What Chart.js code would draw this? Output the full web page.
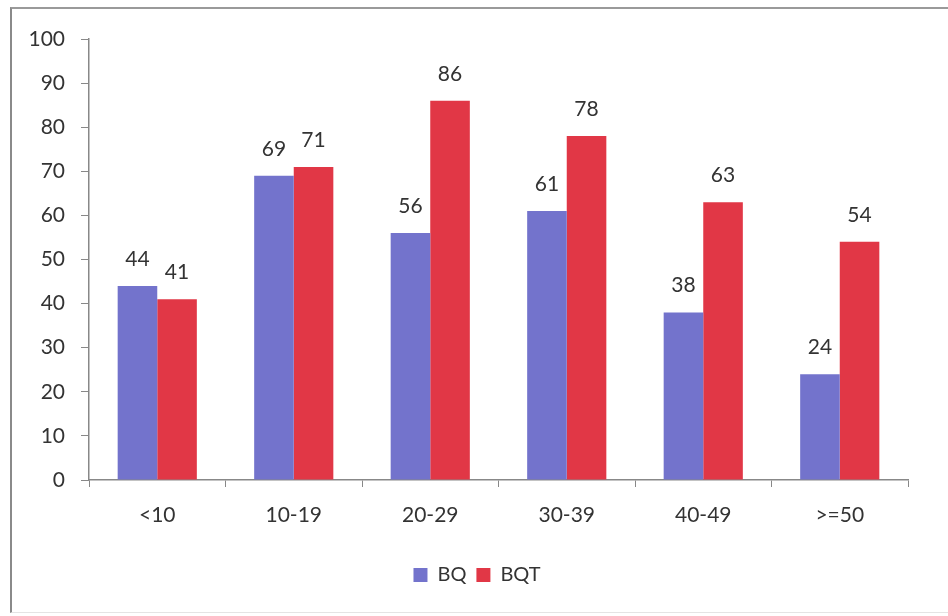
<!DOCTYPE html>
<html><head><meta charset="utf-8">
<script src="https://cdn.jsdelivr.net/npm/chart.js@4/dist/chart.umd.min.js"></script>
<style>
html,body{margin:0;padding:0;background:#fff;}
#wrap{position:relative;width:948px;height:616px;}
#frame{position:absolute;left:10px;top:7px;right:-2px;bottom:3px;border-left:2px solid #8a8a8a;border-top:2px solid #9a9a9a;border-bottom:1px solid #e4e4e4;}
canvas{position:absolute;left:0;top:0;}
</style></head>
<body><div id="wrap"><div id="frame"></div><canvas id="c" width="948" height="616"></canvas></div>
<script>
const categories = ['<10','10-19','20-29','30-39','40-49','>=50'];
const bqValues = [44,69,56,61,38,24];
const bqtValues = [41,71,86,78,63,54];
const seriesNames = ['BQ','BQT'];
const FONT = 'Lato, "Liberation Sans", sans-serif';

const valueLabels = {
  id:'valueLabels',
  afterLayout(chart){
    if(chart.legend){ chart.legend.left += 23; chart.legend.right += 23; }
  },
  afterDatasetsDraw(chart){
    const ctx = chart.ctx;
    ctx.save();
    ctx.font = '21px ' + FONT;
    ctx.fillStyle = '#333';
    ctx.textAlign = 'center';
    ctx.textBaseline = 'alphabetic';
    chart.data.datasets.forEach((ds,i)=>{
      chart.getDatasetMeta(i).data.forEach((bar,j)=>{
        ctx.fillText(String(ds.data[j]), bar.x, bar.y - 20);
      });
    });
    ctx.restore();
  }
};

new Chart(document.getElementById('c'),{
  type:'bar',
  data:{labels:categories,datasets:[
    {label:seriesNames[0],data:bqValues,backgroundColor:'#7373cc'},
    {label:seriesNames[1],data:bqtValues,backgroundColor:'#e13746'}
  ]},
  options:{
    responsive:false,animation:false,
    layout:{padding:{left:0,right:40,top:39,bottom:21}},
    datasets:{bar:{barPercentage:1,categoryPercentage:0.58}},
    plugins:{
      legend:{position:'bottom',labels:{boxWidth:14,boxHeight:14,color:'#333',font:{family:FONT,size:20},padding:10}},
      tooltip:{enabled:false}
    },
    scales:{
      x:{
        grid:{drawOnChartArea:false,color:'#888',tickLength:7,offset:true},
        border:{color:'#888',width:1.5},
        ticks:{color:'#333',font:{family:FONT,size:21},padding:16},
        afterFit(s){s.height=75;}
      },
      y:{
        min:0,max:100,
        grid:{drawOnChartArea:false,color:'#888',tickLength:8},
        border:{color:'#888',width:1.5},
        ticks:{stepSize:10,color:'#333',font:{family:FONT,size:21},padding:16},
        afterFit(s){s.width=89;}
      }
    }
  },
  plugins:[valueLabels]
});
</script></body></html>
